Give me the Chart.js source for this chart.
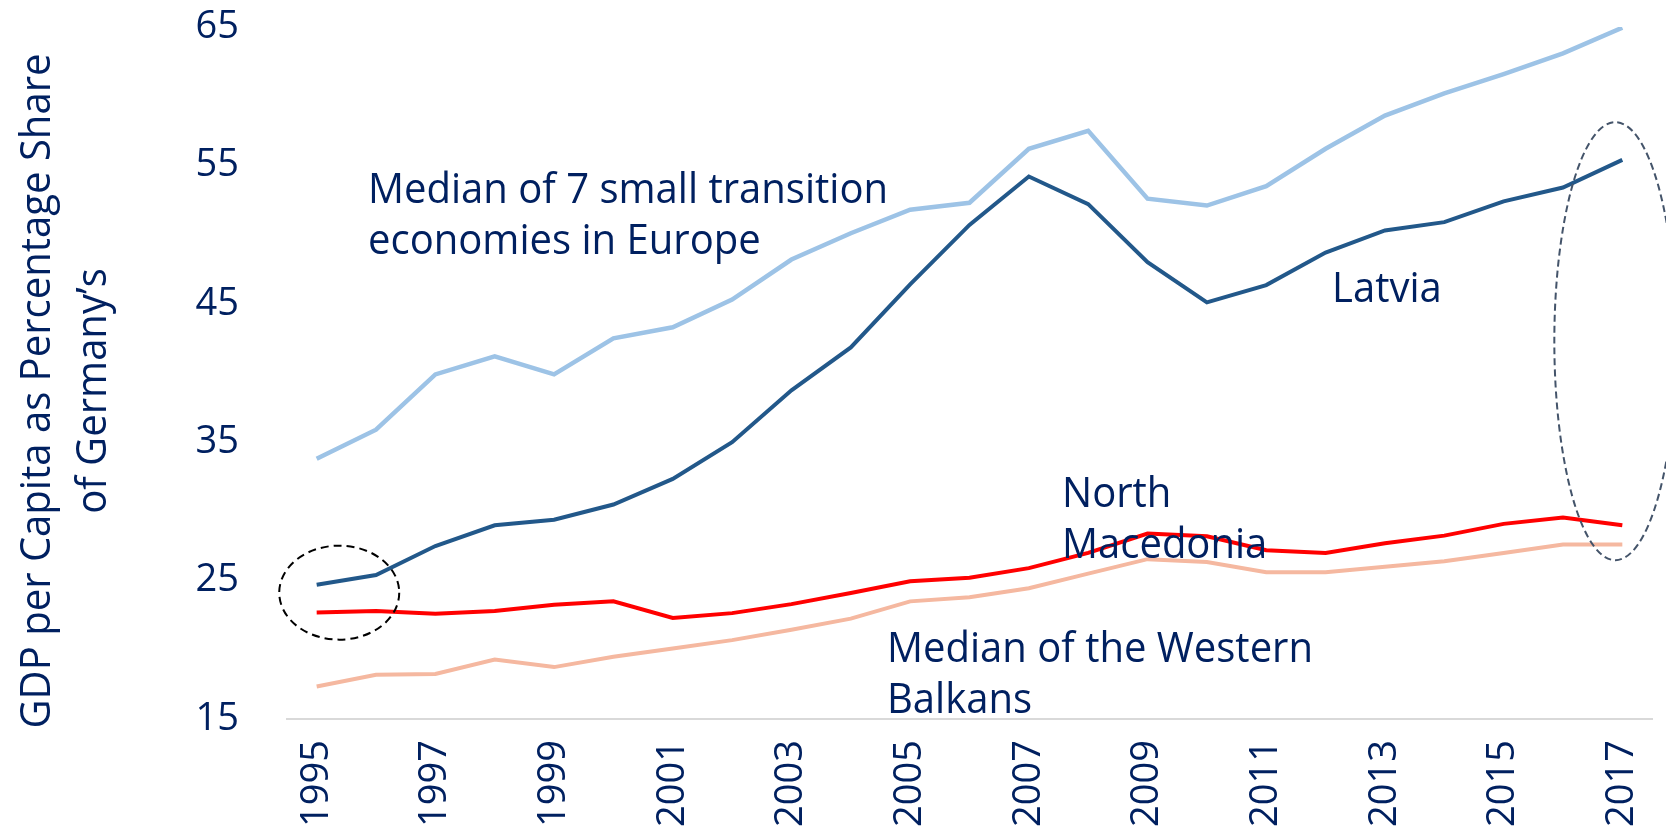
<!DOCTYPE html>
<html>
<head>
<meta charset="utf-8">
<script src="https://cdn.jsdelivr.net/npm/chart.js@4.4.1/dist/chart.umd.min.js"></script>
<style>
  html, body { margin: 0; padding: 0; background: #ffffff; }
  #wrap { width: 1666px; height: 830px; }
</style>
</head>
<body>
<div id="wrap"><canvas id="c" width="1666" height="830"></canvas></div>
<script>
const years = ['1995','1996','1997','1998','1999','2000','2001','2002','2003','2004','2005','2006','2007','2008','2009','2010','2011','2012','2013','2014','2015','2016','2017'];
const median7 = [33.8, 35.9, 39.9, 41.2, 39.9, 42.5, 43.3, 45.3, 48.2, 50.1, 51.8, 52.3, 56.2, 57.5, 52.6, 52.1, 53.5, 56.2, 58.6, 60.2, 61.6, 63.1, 64.95];
const latvia = [24.7, 25.4, 27.5, 29.0, 29.4, 30.5, 32.35, 35.0, 38.75, 41.85, 46.4, 50.7, 54.2, 52.2, 48.0, 45.1, 46.35, 48.7, 50.3, 50.9, 52.4, 53.4, 55.4];
const northMacedonia = [22.7, 22.8, 22.6, 22.8, 23.25, 23.5, 22.3, 22.65, 23.3, 24.1, 24.95, 25.2, 25.9, 27.0, 28.4, 28.2, 27.2, 27.0, 27.7, 28.25, 29.1, 29.55, 29.0];
const medianWB = [17.35, 18.2, 18.25, 19.3, 18.75, 19.5, 20.1, 20.7, 21.45, 22.25, 23.5, 23.8, 24.45, 25.5, 26.55, 26.35, 25.6, 25.6, 26.0, 26.4, 27.0, 27.6, 27.6];
const yTicks = [15, 25, 35, 45, 55, 65];
const yTitle = ['GDP per Capita as Percentage Share', 'of Germany\u2019s'];

const navy = '#002060';
const FONT = "'Open Sans', 'Noto Sans', sans-serif";

const annotations = {
  id: 'annotations',
  afterDatasetsDraw(chart) {
    const ctx = chart.ctx;
    const xs = chart.scales.x, ys = chart.scales.y;
    const step = xs.getPixelForValue(1) - xs.getPixelForValue(0);
    // dashed ellipses
    ctx.save();
    ctx.lineWidth = 2;
    ctx.setLineDash([8, 5]);
    ctx.strokeStyle = '#000000';
    ctx.beginPath();
    ctx.ellipse(xs.getPixelForValue(0) + 0.38 * step, ys.getPixelForValue(24.13), 60, 47, 0, 0, Math.PI * 2);
    ctx.stroke();
    ctx.strokeStyle = '#44546A';
    ctx.setLineDash([7, 4]);
    ctx.beginPath();
    ctx.ellipse(xs.getPixelForValue(22) - 7, ys.getPixelForValue(42.3), 61, 219, 0, 0, Math.PI * 2);
    ctx.stroke();
    ctx.restore();

    // text labels
    ctx.save();
    ctx.fillStyle = navy;
    ctx.font = '42px ' + FONT;
    ctx.textBaseline = 'alphabetic';
    ctx.textAlign = 'left';
    const s = 520 / ctx.measureText('Median of 7 small transition').width;
    const put = (t, x, y) => {
      ctx.save();
      ctx.translate(x, y);
      ctx.scale(s, 1);
      ctx.fillText(t, 0, 0);
      ctx.restore();
    };
    put('Median of 7 small transition', 368, 203);
    put('economies in Europe', 368, 254);
    put('Latvia', 1332, 302);
    put('North', 1062, 507);
    put('Macedonia', 1062, 558);
    put('Median of the Western', 887, 662);
    put('Balkans', 887, 713);
    ctx.restore();
  },
  afterDraw(chart) {
    const ctx = chart.ctx;
    ctx.save();
    ctx.fillStyle = navy;
    ctx.font = '42px ' + FONT;
    ctx.textAlign = 'center';
    ctx.textBaseline = 'alphabetic';
    const s = 675 / ctx.measureText(yTitle[0]).width;
    const cy = 391;
    [[yTitle[0], 50], [yTitle[1], 106]].forEach(([t, bx]) => {
      ctx.save();
      ctx.translate(bx, cy);
      ctx.rotate(-Math.PI / 2);
      ctx.scale(s, 1);
      ctx.fillText(t, 0, 0);
      ctx.restore();
    });
    ctx.restore();
  }
};

const mk = (label, data, color, w) => ({
  label, data, borderColor: color, backgroundColor: color, borderWidth: w,
  pointRadius: 0, pointHoverRadius: 0, tension: 0, fill: false
});

new Chart(document.getElementById('c'), {
  type: 'line',
  data: {
    labels: years,
    datasets: [
      mk('Median of 7 small transition economies in Europe', median7, '#9DC3E6', 4.5),
      mk('Latvia', latvia, '#22588A', 4),
      mk('North Macedonia', northMacedonia, '#FF0000', 4),
      mk('Median of the Western Balkans', medianWB, '#F5B8A0', 4)
    ]
  },
  options: {
    responsive: false,
    animation: false,
    devicePixelRatio: 1,
    layout: { padding: { left: 0, right: 14, top: 27, bottom: 0 } },
    plugins: { legend: { display: false }, tooltip: { enabled: false } },
    scales: {
      x: {
        offset: true,
        grid: { display: false, drawTicks: false },
        border: { display: true, color: '#D9D9D9', width: 2 },
        ticks: {
          autoSkip: false, minRotation: 90, maxRotation: 90, padding: 21,
          color: navy, font: { family: FONT, size: 38 },
          callback: (v, i) => (i % 2 === 0 ? years[i] : '')
        },
        afterFit: (sc) => { sc.height = 111; sc.paddingLeft = 0; sc.paddingRight = 0; }
      },
      y: {
        min: 15, max: 65,
        grid: { display: false, drawTicks: false },
        border: { display: false },
        afterBuildTicks: (sc) => { sc.ticks = yTicks.map(v => ({ value: v })); },
        ticks: { padding: 48, color: navy, font: { family: FONT, size: 38 } },
        afterFit: (sc) => { sc.width = 287; sc.paddingTop = 0; sc.paddingBottom = 0; }
      }
    }
  },
  plugins: [annotations]
});
</script>
</body>
</html>
